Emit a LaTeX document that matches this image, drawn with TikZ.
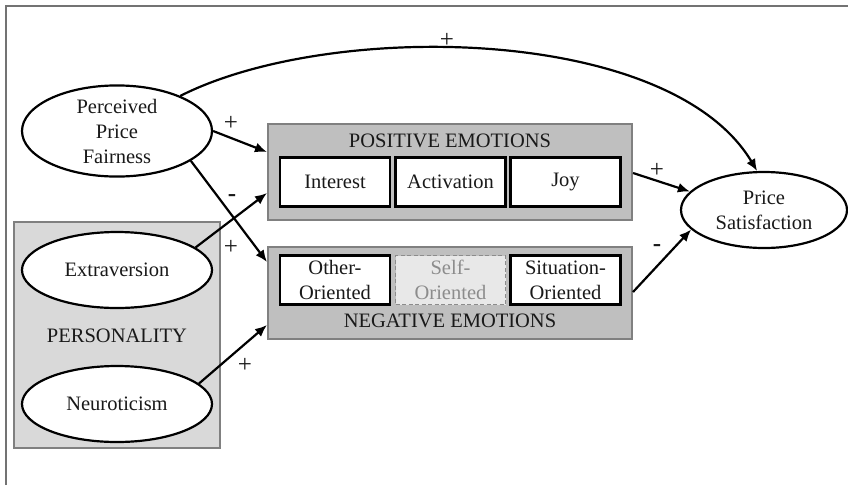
\documentclass[tikz,border=0pt]{standalone}
\usepackage{fontspec}
\setmainfont{Liberation Serif}
\usetikzlibrary{shapes.geometric,arrows.meta}
\begin{document}
\begin{tikzpicture}[x=1pt,y=-1pt,
  txt/.style={font=\fontsize{20.5}{25}\selectfont, text=black!90},
  latent/.style={ellipse, draw=black, line width=2.2pt, fill=white, inner sep=0pt,
    align=center, txt},
  groupbox/.style={draw=black!50, line width=2pt, fill=black!25, inner sep=0pt},
  persbox/.style={draw=black!50, line width=2pt, fill=black!15, inner sep=0pt},
  itembox/.style={draw=black, line width=2.8pt, fill=white, inner sep=0pt,
    minimum width=110pt, minimum height=49pt, align=center, txt},
  ghostbox/.style={draw=black!45, dash pattern=on 4pt off 2.5pt, line width=1.8pt,
    fill=black!9, inner sep=0pt, minimum width=110pt, minimum height=49pt,
    align=center, txt, text=black!45},
  path/.style={draw=black, line width=2.2pt, -{Latex[length=12pt,width=10pt]}},
  sign/.style={font=\fontsize{25}{25}\selectfont, text=black!90, inner sep=0pt}
]
\useasboundingbox (0,0) rectangle (848,485);

% outer frame
\draw[black!55, line width=1.8pt] (6,485) -- (6,6) -- (848,6);

% personality group
\node[persbox, minimum width=206pt, minimum height=226pt] (pers) at (117,335) {};
\node[txt] (perslabel) at (117,336) {PERSONALITY};

% latent constructs
\node[latent, minimum width=190pt, minimum height=82pt] (ppf) at (117,131)
  {Perceived\\Price\\Fairness};
\node[latent, minimum width=190pt, minimum height=76pt] (extra) at (117,270)
  {Extraversion};
\node[latent, minimum width=190pt, minimum height=76pt] (neuro) at (117,404)
  {Neuroticism};
\node[latent, minimum width=166pt, minimum height=76pt] (ps) at (764,210)
  {Price\\Satisfaction};

% positive emotions
\node[groupbox, minimum width=364pt, minimum height=96pt] (pos) at (450,172) {};
\node[txt] (postitle) at (450,141) {POSITIVE EMOTIONS};
\node[itembox] (interest) at (335,182) {Interest};
\node[itembox] (activation) at (450.5,182) {Activation};
\node[itembox, text height=14pt, text depth=5pt] (joy) at (565.5,182) {Joy};

% negative emotions
\node[groupbox, minimum width=364pt, minimum height=92pt] (neg) at (450,293) {};
\node[txt] (negtitle) at (450,321) {NEGATIVE EMOTIONS};
\node[itembox] (other) at (335,280) {Other-\\Oriented};
\node[ghostbox] (self) at (450.5,280) {Self-\\Oriented};
\node[itembox] (situation) at (565.5,280) {Situation-\\Oriented};

% paths
\draw[path] (ppf.29) .. controls (330,20) and (670,25) .. (ps.100);
\draw[path] (ppf.east) -- ([yshift=20pt]pos.west);
\draw[path] (ppf.-22) -- ([yshift=31pt]neg.west);
\draw[path] (extra.16) -- ([yshift=-21pt]pos.west);
\draw[path] (neuro.14) -- ([yshift=-32pt]neg.west);
\draw[path] ([yshift=-1pt]pos.east) -- (ps.166);
\draw[path] ([yshift=1pt]neg.east) -- (ps.195);

% signs
\node[sign] (s1) at (447,40) {+};
\node[sign] (s2) at (231,123) {+};
\node[sign] (s3) at (232,198) {\textbf{-}};
\node[sign] (s4) at (231,247) {+};
\node[sign] (s5) at (245,365) {+};
\node[sign] (s6) at (657,170) {+};
\node[sign] (s7) at (657,248) {\textbf{-}};
\end{tikzpicture}
\end{document}
